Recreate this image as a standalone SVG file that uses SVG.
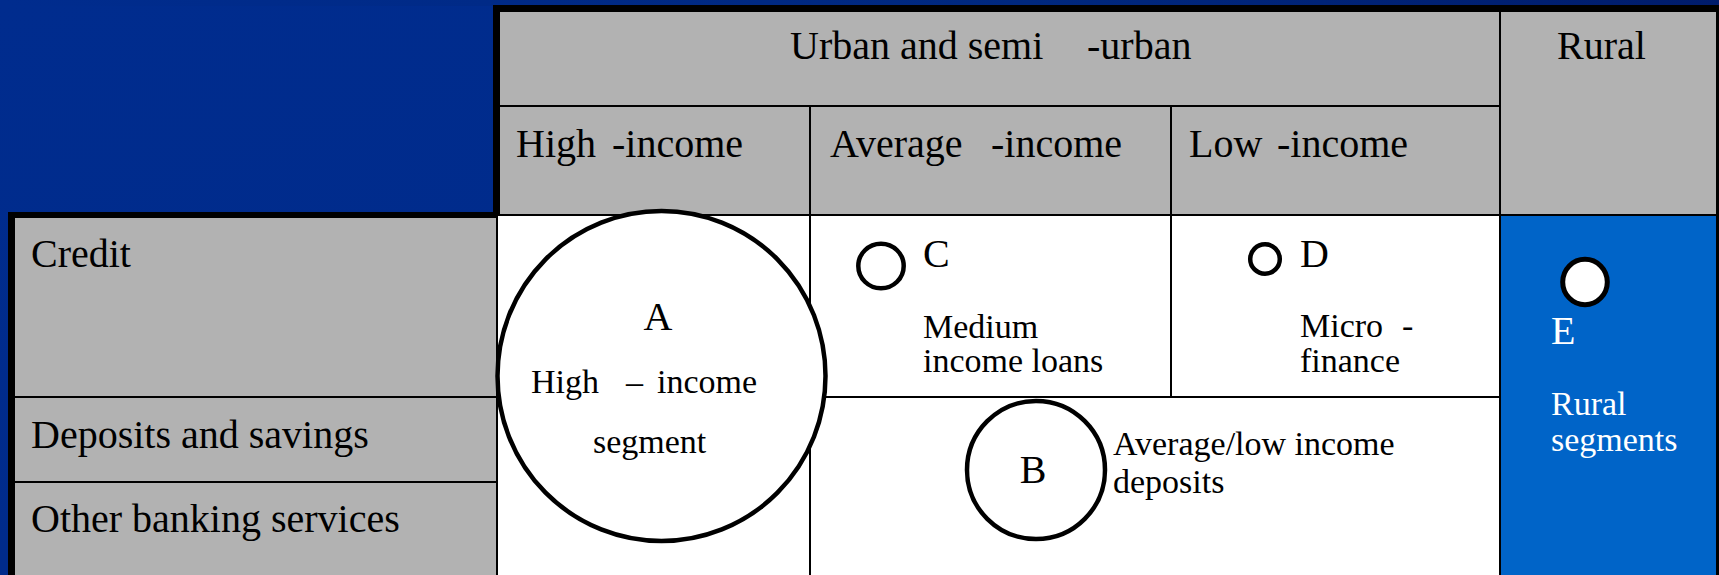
<svg xmlns="http://www.w3.org/2000/svg" width="1719" height="575" viewBox="0 0 1719 575">
<defs>
<linearGradient id="bg" x1="0" y1="0" x2="1" y2="1">
<stop offset="0" stop-color="#002c8e"/>
<stop offset="1" stop-color="#002a88"/>
</linearGradient>
<linearGradient id="topstrip" x1="0" y1="0" x2="1" y2="0">
<stop offset="0" stop-color="#002c8e"/>
<stop offset="0.6" stop-color="#00287f"/>
<stop offset="1" stop-color="#001c6c"/>
</linearGradient>
<style>
.t{font-family:"Liberation Serif","Times New Roman",serif;fill:#000}
.h{font-size:40px}
.s{font-size:34px}
.w{fill:#fff}
.ln{stroke:#000;stroke-width:2;fill:none}
.gray{fill:#b2b2b2}
.ring{stroke:#000;stroke-width:4.5}
</style>
</defs>
<rect x="0" y="0" width="1719" height="575" fill="url(#bg)"/>
<rect x="0" y="0" width="1719" height="6" fill="url(#topstrip)"/>

<g id="frame">
<rect x="493" y="5" width="1226" height="570" fill="#000"/>
<rect x="8" y="212" width="492" height="363" fill="#000"/>
</g>

<g id="header-urban">
<rect class="gray" x="500" y="12" width="1000" height="203"/>
<text class="t h" x="790" y="59">Urban and semi</text>
<text class="t h" x="1087" y="59">-urban</text>
</g>
<g id="header-rural">
<rect class="gray" x="1501" y="12" width="215" height="203"/>
<text class="t h" x="1557" y="59">Rural</text>
</g>
<g id="header-high">
<text class="t h" x="516" y="157">High</text>
<text class="t h" x="612" y="157">-income</text>
</g>
<g id="header-average">
<text class="t h" x="830" y="157">Average</text>
<text class="t h" x="991" y="157">-income</text>
</g>
<g id="header-low">
<text class="t h" x="1189" y="157">Low</text>
<text class="t h" x="1277" y="157">-income</text>
</g>

<g id="row-credit">
<rect class="gray" x="15" y="218" width="482" height="179"/>
<text class="t h" x="31" y="267">Credit</text>
</g>
<g id="row-deposits">
<rect class="gray" x="15" y="397" width="482" height="85"/>
<text class="t h" x="31" y="448">Deposits and savings</text>
</g>
<g id="row-other">
<rect class="gray" x="15" y="482" width="482" height="93"/>
<text class="t h" x="31" y="532">Other banking services</text>
</g>

<g id="body">
<rect x="498" y="216" width="1002" height="359" fill="#fff"/>
<rect x="1501" y="216" width="215" height="359" fill="#0064c8"/>
</g>

<g id="connectors">
<line class="ln" x1="500" y1="106" x2="1500" y2="106"/>
<line class="ln" x1="500" y1="215" x2="1716" y2="215"/>
<line class="ln" x1="810" y1="106" x2="810" y2="575"/>
<line class="ln" x1="1171" y1="106" x2="1171" y2="397"/>
<line class="ln" x1="1500" y1="12" x2="1500" y2="575"/>
<line class="ln" x1="810" y1="397" x2="1500" y2="397"/>
<line class="ln" x1="15" y1="397" x2="497" y2="397"/>
<line class="ln" x1="15" y1="482" x2="497" y2="482"/>
<line class="ln" x1="497" y1="215" x2="497" y2="575"/>
</g>

<g id="node-A">
<ellipse class="ring" cx="661.5" cy="376" rx="164" ry="165" fill="#fff"/>
<text class="t h" x="658" y="330" text-anchor="middle">A</text>
<text class="t s" y="393"><tspan x="531">High</tspan><tspan x="626">–</tspan><tspan x="657">income</tspan></text>
<text class="t s" x="593" y="453">segment</text>
</g>

<g id="node-C">
<ellipse class="ring" cx="881" cy="266" rx="22.7" ry="22.3" fill="#fff"/>
<text class="t h" x="923" y="267">C</text>
<text class="t s" x="923" y="338">Medium</text>
<text class="t s" x="923" y="372">income loans</text>
</g>

<g id="node-D">
<circle class="ring" cx="1265" cy="259" r="14.8" fill="#fff"/>
<text class="t h" x="1300" y="267">D</text>
<text class="t s" y="337"><tspan x="1300">Micro</tspan><tspan x="1402">-</tspan></text>
<text class="t s" x="1300" y="372">finance</text>
</g>

<g id="node-B">
<circle class="ring" cx="1036" cy="470" r="69" fill="#fff"/>
<text class="t h" x="1033" y="483" text-anchor="middle">B</text>
<text class="t s" x="1113" y="455">Average/low income</text>
<text class="t s" x="1113" y="493">deposits</text>
</g>

<g id="node-E">
<ellipse cx="1585" cy="282" rx="22.3" ry="22.8" fill="#fff" stroke="#000" stroke-width="5"/>
<text class="t h w" x="1551" y="344">E</text>
<text class="t s w" x="1551" y="415">Rural</text>
<text class="t s w" x="1551" y="451">segments</text>
</g>
</svg>
